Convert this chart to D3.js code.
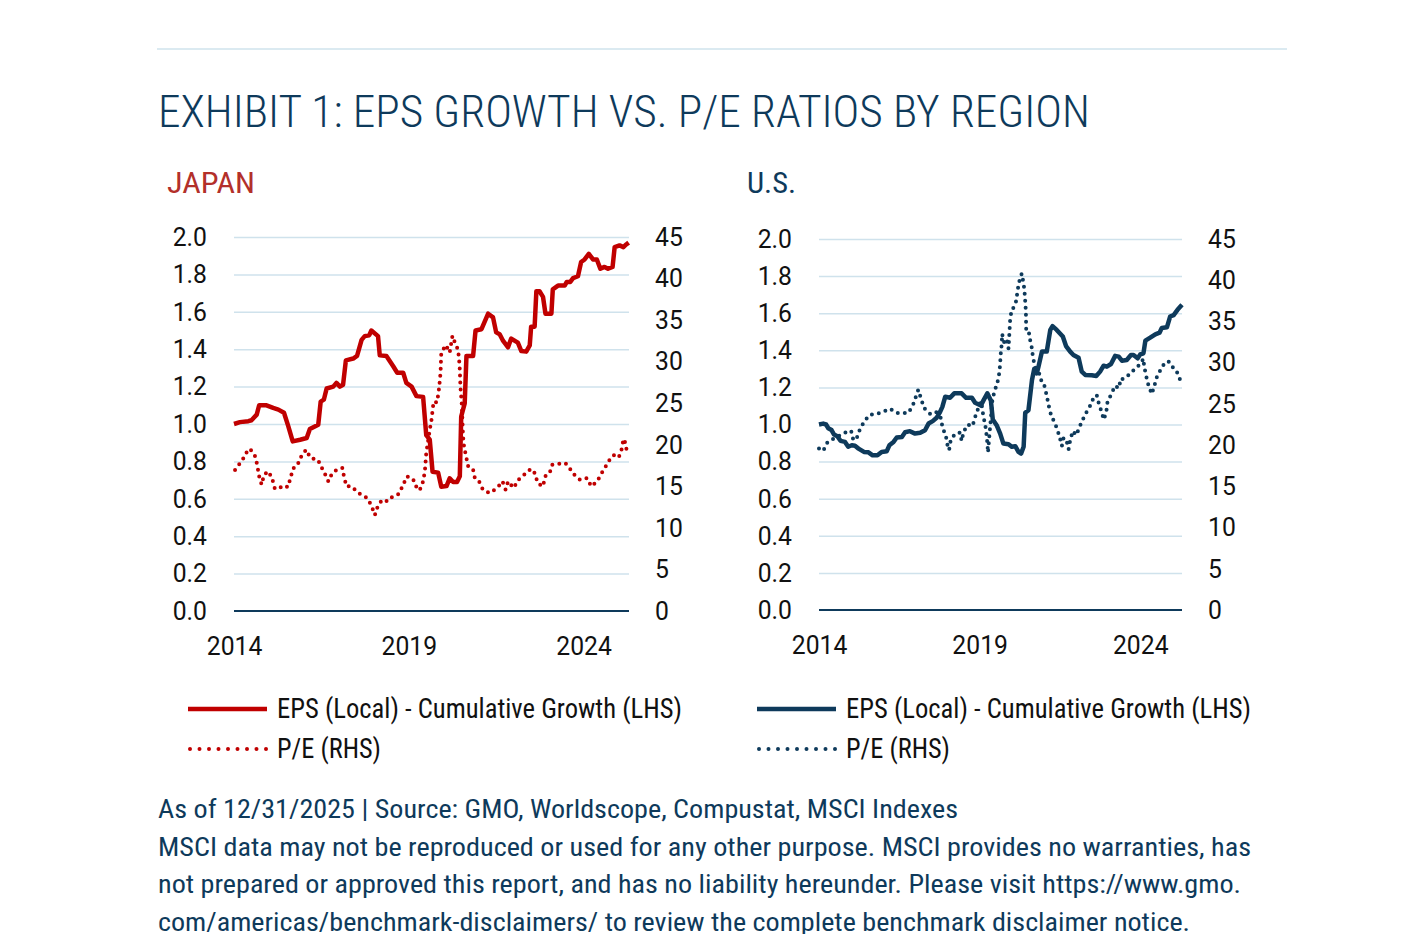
<!DOCTYPE html>
<html>
<head>
<meta charset="utf-8">
<script src="https://cdn.jsdelivr.net/npm/d3@7"></script>
<style>
  body { margin: 0; background: #fff; }
  svg { display: block; font-family: "Roboto Condensed", Roboto, "Noto Sans", sans-serif; }
</style>
</head>
<body>
<svg id="chart" width="1401" height="934"></svg>
<script>
// tick labels
const yearTicks = [2014, 2019, 2024];
const lhsTicks = [0, 0.2, 0.4, 0.6, 0.8, 1.0, 1.2, 1.4, 1.6, 1.8, 2.0];
const rhsTicks = [0, 5, 10, 15, 20, 25, 30, 35, 40, 45];

// Japan: EPS cumulative growth (LHS), [year, value]
const jpEps = [
  [2014.0, 1.00], [2014.17, 1.01], [2014.41, 1.015], [2014.5, 1.02], [2014.65, 1.05], [2014.72, 1.10],
  [2014.93, 1.10], [2015.12, 1.086], [2015.27, 1.077], [2015.43, 1.06], [2015.55, 0.99], [2015.68, 0.907],
  [2015.89, 0.916], [2016.08, 0.925], [2016.17, 0.973], [2016.41, 0.996], [2016.48, 1.12], [2016.57, 1.13],
  [2016.65, 1.19], [2016.84, 1.20], [2016.93, 1.22], [2017.03, 1.20], [2017.12, 1.21], [2017.2, 1.34],
  [2017.41, 1.35], [2017.52, 1.364], [2017.65, 1.45], [2017.74, 1.47], [2017.87, 1.475], [2017.93, 1.50],
  [2018.12, 1.47], [2018.17, 1.367], [2018.36, 1.364], [2018.55, 1.31], [2018.67, 1.274], [2018.84, 1.274],
  [2018.93, 1.22], [2019.08, 1.20], [2019.22, 1.149], [2019.41, 1.145], [2019.5, 0.94], [2019.6, 0.916],
  [2019.68, 0.745], [2019.84, 0.74], [2019.93, 0.665], [2020.08, 0.668], [2020.17, 0.71], [2020.27, 0.69],
  [2020.38, 0.69], [2020.46, 0.72], [2020.5, 1.04], [2020.6, 1.11], [2020.65, 1.364], [2020.84, 1.364],
  [2020.91, 1.50], [2021.08, 1.507], [2021.27, 1.59], [2021.41, 1.57], [2021.5, 1.49], [2021.6, 1.48],
  [2021.7, 1.444], [2021.84, 1.41], [2021.93, 1.457], [2022.12, 1.435], [2022.22, 1.39], [2022.36, 1.387],
  [2022.46, 1.42], [2022.5, 1.52], [2022.6, 1.52], [2022.65, 1.71], [2022.74, 1.71], [2022.84, 1.68],
  [2022.91, 1.59], [2023.08, 1.59], [2023.12, 1.72], [2023.27, 1.74], [2023.46, 1.74], [2023.52, 1.76],
  [2023.62, 1.76], [2023.7, 1.78], [2023.84, 1.79], [2023.93, 1.866], [2024.03, 1.88], [2024.15, 1.91],
  [2024.27, 1.88], [2024.38, 1.88], [2024.48, 1.83], [2024.6, 1.84], [2024.7, 1.83], [2024.83, 1.84],
  [2024.89, 1.946], [2025.03, 1.955], [2025.14, 1.946], [2025.22, 1.96], [2025.29, 1.97]
];

// Japan: P/E (RHS)
const jpPe = [
  [2014.03, 16.97], [2014.15, 17.65], [2014.29, 18.5], [2014.41, 19.5], [2014.5, 19.3], [2014.62, 18.5],
  [2014.67, 17.4], [2014.72, 16.2], [2014.79, 15.2], [2014.86, 16.4], [2014.99, 16.8], [2015.1, 15.8],
  [2015.17, 14.7], [2015.29, 14.8], [2015.46, 15.1], [2015.53, 14.9], [2015.62, 16.0], [2015.68, 17.1],
  [2015.81, 17.5], [2015.91, 18.5], [2016.06, 19.4], [2016.19, 18.4], [2016.4, 18.2], [2016.49, 17.4],
  [2016.59, 16.6], [2016.7, 15.6], [2016.81, 16.6], [2016.95, 17.0], [2017.1, 17.2], [2017.15, 16.1],
  [2017.22, 15.0], [2017.36, 15.0], [2017.56, 14.2], [2017.71, 13.8], [2017.81, 13.6], [2017.93, 12.7],
  [2018.03, 11.55], [2018.12, 12.7], [2018.24, 13.4], [2018.4, 13.2], [2018.52, 13.7], [2018.72, 14.1],
  [2018.84, 15.2], [2018.95, 16.2], [2019.12, 15.9], [2019.22, 14.9], [2019.31, 14.5], [2019.41, 15.6],
  [2019.46, 16.8], [2019.5, 19.0], [2019.6, 21.8], [2019.65, 23.0], [2019.68, 24.1], [2019.71, 25.2],
  [2019.81, 25.1], [2019.86, 26.6], [2019.89, 27.8], [2019.91, 28.8], [2019.92, 30.0], [2019.93, 31.1],
  [2020.06, 32.0], [2020.17, 31.1], [2020.25, 33.1], [2020.31, 32.4], [2020.41, 31.4], [2020.44, 30.2],
  [2020.46, 29.0], [2020.47, 27.8], [2020.48, 26.8], [2020.5, 25.8], [2020.52, 24.6], [2020.53, 23.4],
  [2020.55, 21.2], [2020.57, 20.1], [2020.62, 19.0], [2020.7, 17.4], [2020.84, 17.0], [2020.89, 16.0],
  [2021.01, 15.6], [2021.12, 14.6], [2021.31, 14.2], [2021.53, 14.8], [2021.68, 15.6], [2021.77, 14.6],
  [2021.84, 15.6], [2022.0, 14.8], [2022.14, 15.8], [2022.33, 16.5], [2022.49, 17.1], [2022.62, 16.5],
  [2022.68, 15.4], [2022.84, 15.0], [2022.9, 16.2], [2023.03, 16.6], [2023.1, 17.6], [2023.24, 17.7],
  [2023.48, 17.8], [2023.65, 16.9], [2023.77, 16.2], [2023.9, 15.8], [2024.1, 16.0], [2024.22, 15.0],
  [2024.39, 15.6], [2024.52, 16.6], [2024.65, 17.5], [2024.79, 18.5], [2024.89, 18.8], [2025.01, 18.5],
  [2025.1, 19.6], [2025.14, 20.7], [2025.19, 20.3], [2025.24, 19.2]
];

// U.S.: EPS cumulative growth (LHS)
const usEps = [
  [2014.0, 1.00], [2014.13, 1.005], [2014.22, 1.0], [2014.29, 0.98], [2014.39, 0.97], [2014.47, 0.946],
  [2014.57, 0.937], [2014.67, 0.912], [2014.81, 0.906], [2014.91, 0.88], [2015.02, 0.888], [2015.12, 0.885],
  [2015.23, 0.87], [2015.4, 0.852], [2015.54, 0.85], [2015.67, 0.834], [2015.82, 0.834], [2015.95, 0.852],
  [2016.11, 0.856], [2016.19, 0.888], [2016.32, 0.906], [2016.42, 0.93], [2016.58, 0.933], [2016.68, 0.958],
  [2016.83, 0.964], [2016.99, 0.951], [2017.15, 0.955], [2017.3, 0.969], [2017.41, 1.005], [2017.54, 1.018],
  [2017.67, 1.038], [2017.77, 1.068], [2017.84, 1.095], [2017.93, 1.15], [2018.08, 1.144], [2018.21, 1.168],
  [2018.44, 1.168], [2018.58, 1.144], [2018.76, 1.144], [2018.86, 1.117], [2019.04, 1.103], [2019.12, 1.13],
  [2019.24, 1.168], [2019.35, 1.13], [2019.41, 1.027], [2019.53, 0.996], [2019.64, 0.951], [2019.74, 0.897],
  [2019.9, 0.894], [2020.0, 0.88], [2020.11, 0.883], [2020.21, 0.852], [2020.29, 0.843], [2020.37, 0.88],
  [2020.42, 1.063], [2020.52, 1.077], [2020.63, 1.24], [2020.7, 1.30], [2020.78, 1.276], [2020.83, 1.31],
  [2020.94, 1.393], [2021.09, 1.393], [2021.2, 1.51], [2021.27, 1.53], [2021.4, 1.51], [2021.59, 1.474],
  [2021.69, 1.423], [2021.82, 1.393], [2021.92, 1.375], [2022.08, 1.36], [2022.18, 1.285], [2022.29, 1.267],
  [2022.49, 1.265], [2022.63, 1.261], [2022.75, 1.285], [2022.86, 1.317], [2022.96, 1.312], [2023.09, 1.326],
  [2023.22, 1.37], [2023.33, 1.366], [2023.43, 1.344], [2023.58, 1.348], [2023.71, 1.375], [2023.79, 1.375],
  [2023.92, 1.357], [2024.0, 1.378], [2024.1, 1.384], [2024.16, 1.452], [2024.31, 1.468], [2024.47, 1.486],
  [2024.6, 1.495], [2024.67, 1.52], [2024.83, 1.524], [2024.93, 1.582], [2025.04, 1.59], [2025.16, 1.618],
  [2025.3, 1.645]
];

// U.S.: P/E (RHS)
const usPe = [
  [2014.0, 19.6], [2014.13, 19.3], [2014.27, 20.4], [2014.86, 21.6], [2015.0, 21.75], [2015.07, 20.6],
  [2015.17, 20.8], [2015.28, 22.0], [2015.43, 23.0], [2015.59, 23.7], [2015.8, 23.8], [2016.0, 24.05],
  [2016.21, 24.4], [2016.42, 23.9], [2016.63, 23.9], [2016.78, 23.9], [2016.92, 24.8], [2017.09, 26.7],
  [2017.18, 25.6], [2017.27, 24.5], [2017.46, 23.8], [2017.64, 24.05], [2017.8, 23.25], [2017.84, 22.2],
  [2017.95, 21.1], [2018.0, 20.0], [2018.05, 19.4], [2018.1, 20.6], [2018.24, 21.4], [2018.39, 21.5],
  [2018.44, 20.5], [2018.5, 21.6], [2018.63, 22.5], [2018.78, 22.3], [2018.86, 23.4], [2018.96, 24.5],
  [2019.05, 25.3], [2019.12, 23.4], [2019.17, 22.6], [2019.21, 21.4], [2019.24, 20.3], [2019.26, 19.1],
  [2019.4, 25.6], [2019.48, 26.7], [2019.56, 27.7], [2019.62, 28.9], [2019.64, 30.0], [2019.66, 31.2],
  [2019.69, 32.3], [2019.7, 33.5], [2019.77, 32.4], [2019.85, 32.8], [2019.9, 31.7], [2019.95, 35.2],
  [2020.0, 36.5], [2020.07, 36.7], [2020.14, 37.5], [2020.18, 38.7], [2020.23, 39.8], [2020.31, 40.8],
  [2020.37, 39.6], [2020.4, 38.5], [2020.42, 37.4], [2020.44, 36.2], [2020.45, 34.0], [2020.52, 34.0],
  [2020.57, 32.8], [2020.63, 31.7], [2020.66, 30.6], [2020.73, 29.5], [2020.88, 28.5], [2020.94, 27.5],
  [2021.01, 27.3], [2021.09, 26.0], [2021.15, 24.8], [2021.22, 23.7], [2021.3, 23.0], [2021.4, 22.1],
  [2021.49, 21.0], [2021.56, 19.9], [2021.61, 20.8], [2021.69, 20.8], [2021.77, 19.5], [2021.82, 20.6],
  [2021.9, 21.7], [2022.01, 21.2], [2022.11, 22.2], [2022.21, 23.1], [2022.34, 24.1], [2022.46, 24.9],
  [2022.57, 26.0], [2022.65, 26.0], [2022.72, 24.9], [2022.81, 23.9], [2022.86, 23.1], [2022.94, 23.9],
  [2022.98, 25.2], [2023.1, 26.2], [2023.22, 27.2], [2023.33, 26.9], [2023.4, 28.1], [2023.46, 28.0],
  [2023.64, 28.5], [2023.77, 29.0], [2023.9, 29.5], [2024.0, 29.8], [2024.1, 30.5], [2024.12, 29.6],
  [2024.19, 28.3], [2024.26, 27.2], [2024.36, 26.2], [2024.44, 27.2], [2024.52, 28.3], [2024.64, 29.2],
  [2024.78, 30.1], [2024.91, 30.1], [2025.04, 29.3], [2025.19, 28.6], [2025.27, 27.5]
];

const legendLabels = ["EPS (Local) - Cumulative Growth (LHS)", "P/E (RHS)"];
const footLines = [
  "As of 12/31/2025 | Source: GMO, Worldscope, Compustat, MSCI Indexes",
  "MSCI data may not be reproduced or used for any other purpose. MSCI provides no warranties, has",
  "not prepared or approved this report, and has no liability hereunder. Please visit https://www.gmo.",
  "com/americas/benchmark-disclaimers/ to review the complete benchmark disclaimer notice."
];

const navy = "#0e3a5b";
const red = "#c00000";
const grid = "#cfe2ec";

const svg = d3.select("#chart");

// squeeze text to a condensed look
function squeeze(sel, k) {
  sel.each(function () {
    const w = this.getComputedTextLength();
    d3.select(this).attr("textLength", w * k).attr("lengthAdjust", "spacingAndGlyphs");
  });
}

svg.append("line")
  .attr("x1", 157).attr("x2", 1287).attr("y1", 49).attr("y2", 49)
  .attr("stroke", "#cfe3ed").attr("stroke-width", 1.5);

svg.append("text")
  .attr("x", 158).attr("y", 127)
  .attr("font-size", 44).attr("font-weight", 300).attr("fill", navy)
  .attr("textLength", 932).attr("lengthAdjust", "spacingAndGlyphs")
  .text("EXHIBIT 1: EPS GROWTH VS. P/E RATIOS BY REGION");

function drawPanel(p) {
  const g = svg.append("g");
  const x = d3.scaleLinear().domain([2014, 2025.3]).range([p.left, p.right]);
  const yL = d3.scaleLinear().domain([0, 2]).range([p.bottom, p.top]);
  const yR = d3.scaleLinear().domain([0, 45]).range([p.bottom, p.top]);

  g.append("text")
    .attr("x", p.titleX).attr("y", 193)
    .attr("font-size", 30).attr("fill", p.titleColor)
    .attr("textLength", p.titleW).attr("lengthAdjust", "spacingAndGlyphs")
    .text(p.name);

  // gridlines
  const gridAxis = g.append("g")
    .attr("transform", `translate(${p.left},0)`)
    .call(d3.axisLeft(yL).tickValues(lhsTicks.filter(v => v > 0))
      .tickSize(-(p.right - p.left)).tickFormat(""));
  gridAxis.select(".domain").remove();
  gridAxis.selectAll("line").attr("stroke", grid).attr("stroke-width", 1.5);

  g.append("line")
    .attr("x1", p.left).attr("x2", p.right)
    .attr("y1", yL(0)).attr("y2", yL(0))
    .attr("stroke", navy).attr("stroke-width", 2);

  const axisStyle = a => {
    a.select(".domain").remove();
    a.selectAll("line").remove();
    a.selectAll("text").attr("font-size", 26).attr("fill", "#111")
      .attr("font-family", "Roboto, sans-serif");
  };

  g.append("g")
    .attr("transform", `translate(${p.left},0)`)
    .call(d3.axisLeft(yL).tickValues(lhsTicks).tickFormat(d3.format(".1f")).tickSize(0).tickPadding(27))
    .call(axisStyle);

  g.append("g")
    .attr("transform", `translate(${p.right},0)`)
    .call(d3.axisRight(yR).tickValues(rhsTicks).tickFormat(d3.format("d")).tickSize(0).tickPadding(26))
    .call(axisStyle);

  const xa = g.append("g")
    .attr("transform", `translate(0,${p.bottom})`)
    .call(d3.axisBottom(x).tickValues(yearTicks).tickFormat(d3.format("d")).tickSize(0).tickPadding(26))
    .call(axisStyle);
  xa.selectAll("text").attr("dy", "0.71em");

  g.selectAll("g.tick text").call(squeeze, 0.95);

  const lineL = d3.line().x(d => x(d[0])).y(d => yL(d[1]));
  const lineR = d3.line().x(d => x(d[0])).y(d => yR(d[1]));

  g.append("path").datum(p.pe)
    .attr("d", lineR).attr("fill", "none")
    .attr("stroke", p.color).attr("stroke-width", 4)
    .attr("stroke-linecap", "round").attr("stroke-dasharray", "0 7");

  g.append("path").datum(p.eps)
    .attr("d", lineL).attr("fill", "none")
    .attr("stroke", p.color).attr("stroke-width", 4.5)
    .attr("stroke-linejoin", "round");

  // legend
  const lg = g.append("g");
  lg.append("line")
    .attr("x1", p.legendX).attr("x2", p.legendX + 79).attr("y1", 709).attr("y2", 709)
    .attr("stroke", p.color).attr("stroke-width", 4.5);
  lg.append("line")
    .attr("x1", p.legendX + 2).attr("x2", p.legendX + 79).attr("y1", 749).attr("y2", 749)
    .attr("stroke", p.color).attr("stroke-width", 4)
    .attr("stroke-linecap", "round").attr("stroke-dasharray", "0 9.5");
  const legendW = [405, 104];
  lg.selectAll("text").data(legendLabels).join("text")
    .attr("x", p.legendX + 89)
    .attr("y", (d, i) => 718 + i * 40)
    .attr("font-size", 27).attr("fill", "#111")
    .attr("textLength", (d, i) => legendW[i]).attr("lengthAdjust", "spacingAndGlyphs")
    .text(d => d);
}

drawPanel({
  name: "JAPAN", titleX: 167, titleW: 88, titleColor: "#b3302a",
  left: 234, right: 629, top: 237, bottom: 611,
  color: red, eps: jpEps, pe: jpPe, legendX: 188
});

drawPanel({
  name: "U.S.", titleX: 747, titleW: 49, titleColor: navy,
  left: 819, right: 1182, top: 239, bottom: 610,
  color: navy, eps: usEps, pe: usPe, legendX: 757
});

const footWidths = [800, 1093, 1083, 1032];
svg.append("g").selectAll("text").data(footLines).join("text")
  .attr("x", 158)
  .attr("y", (d, i) => 818 + i * 37.5)
  .attr("font-size", 25).attr("fill", navy)
  .attr("textLength", (d, i) => footWidths[i]).attr("lengthAdjust", "spacingAndGlyphs")
  .text(d => d);
</script>
</body>
</html>
